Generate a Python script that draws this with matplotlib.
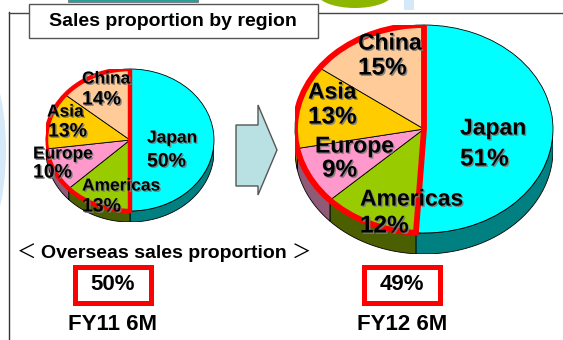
import matplotlib
matplotlib.use("Agg")
import matplotlib.pyplot as plt
import numpy as np
from matplotlib.patches import Wedge, Rectangle, Polygon, Ellipse
import matplotlib.patheffects as pe

# ---------------- data ----------------
regions = ["Japan", "Americas", "Europe", "Asia", "China"]
fy11_share = [50, 13, 10, 13, 14]
fy12_share = [51, 12, 9, 13, 15]
overseas_share = ["50%", "49%"]
period_labels = ["FY11 6M", "FY12 6M"]
title_text = "Sales proportion by region"
overseas_title = "Overseas sales proportion"

top_colors = ["#00FFFF", "#99CC00", "#FF99CC", "#FFCC00", "#FFCC99"]
side_colors = ["#008080", "#4C5F00", "#8E5A75", "#997A00", "#99795C"]

W, H = 563, 340
FONT = "Liberation Sans"

fig = plt.figure(figsize=(W / 100, H / 100), dpi=100)
main = fig.add_axes([0, 0, 1, 1])
main.set_xlim(0, W)
main.set_ylim(H, 0)
main.axis("off")
main.set_zorder(5)

# background decorations
main.add_patch(Ellipse((-24, 150), 60, 190, facecolor="#d6e9f9", edgecolor="none", zorder=0))
main.add_patch(Ellipse((355, -8), 78, 32, facecolor="#8DB600", edgecolor="none", zorder=0))
main.add_patch(Rectangle((404, -2), 10, 12, facecolor="#d3e9f8", edgecolor="none", zorder=0))
main.add_patch(Rectangle((68, -2), 130, 3.5, facecolor="#2a9d9d", edgecolor="#777777", lw=0.6, zorder=0))
main.plot([8.5, 8.5], [12, H], color="#333333", lw=1.0, zorder=1)
main.plot([8.5, W], [12.5, 12.5], color="#444444", lw=1.0, zorder=1)

# title box
main.add_patch(Rectangle((29, 3.5), 289, 34.5, facecolor="white", edgecolor="#555555", lw=1.0, zorder=2))
main.text(173, 21, title_text, fontsize=14, fontweight="bold", family=FONT,
          ha="center", va="center", zorder=3)

shadow = [pe.withSimplePatchShadow(offset=(1, -1), shadow_rgbFace="#7a7a7a", alpha=0.9)]


def draw_pie(values, cx, cy, rx, ry, depth, red_lw):
    ax = fig.add_axes([(cx - rx) / W, (H - (cy + ry + depth)) / H,
                       2 * rx / W, (2 * ry + depth) / H])
    ax.set_zorder(1)
    d = depth / ry
    wedges, _ = ax.pie(values, colors=top_colors, startangle=90, counterclock=False,
                       radius=1, center=(0, 0),
                       wedgeprops=dict(edgecolor="black", linewidth=0.6, zorder=3))
    # side walls
    for w, sc in zip(wedges, side_colors):
        t1, t2 = w.theta1 % 360, w.theta2 % 360
        if t2 <= t1:
            t2 += 360
        for off in (0, 360, -360):
            a = max(t1 + off, 180)
            b = min(t2 + off, 360)
            if b > a:
                t = np.radians(np.linspace(a, b, 60))
                xs = np.cos(t)
                ys = np.sin(t)
                pts = np.concatenate([np.column_stack([xs, ys]),
                                      np.column_stack([xs[::-1], ys[::-1] - d])])
                ax.add_patch(Polygon(pts, closed=True, facecolor=sc, edgecolor="black",
                                     lw=0.6, zorder=1))
    # red outline of overseas part
    th1 = 90
    th2 = wedges[0].theta1 + 360
    ax.add_patch(Wedge((0, 0), 1, th1, th2, fill=False, edgecolor="#FF0000",
                       lw=red_lw, joinstyle="miter", zorder=5))
    ax.set_aspect("auto")
    ax.set_xlim(-1, 1)
    ax.set_ylim(-1 - d, 1)
    ax.axis("off")
    return ax


draw_pie(fy11_share, 130, 140, 84, 71, 11, 3.2)
draw_pie(fy12_share, 424, 129, 129, 104, 21, 4.2)

# pie labels (left x, name y, pct y) in pixels
small_pos = {"Japan": (147, 138, 162), "Americas": (82, 186, 207), "Europe": (33, 154, 173),
             "Asia": (47, 112, 132), "China": (82, 79, 100)}
big_pos = {"Japan": (460, 128, 159), "Americas": (360, 199, 226), "Europe": (315, 146, 170),
           "Asia": (308, 92, 117), "China": (358, 43, 68)}


def labels(values, pos, fs_name, fs_pct, pct_shift):
    for name, v in zip(regions, values):
        x, yn, yp = pos[name]
        main.text(x, yn, name, fontsize=fs_name, fontweight="bold", family=FONT,
                  ha="left", va="center", zorder=10, path_effects=shadow)
        main.text(x + pct_shift.get(name, 0), yp, f"{v}%", fontsize=fs_pct, fontweight="bold",
                  family=FONT, ha="left", va="center", zorder=10, path_effects=shadow)


labels(fy11_share, small_pos, 12.5, 14, {"Asia": 1})
labels(fy12_share, big_pos, 16.5, 17.5, {"Europe": 7})

# arrow
arrow = [(236, 125), (258, 125), (258, 105), (277, 150), (258, 195), (258, 186), (236, 186)]
main.add_patch(Polygon(arrow, closed=True, facecolor="#B9E0E2", edgecolor="#555555", lw=1.0, zorder=4))

# overseas proportion
main.text(27, 253, "＜", fontsize=14, family=["Noto Sans CJK JP", "DejaVu Sans"],
          ha="center", va="center", zorder=5)
main.text(164, 253, overseas_title, fontsize=14, fontweight="bold", family=FONT,
          ha="center", va="center", zorder=5)
main.text(302, 253, "＞", fontsize=14, family=["Noto Sans CJK JP", "DejaVu Sans"],
          ha="center", va="center", zorder=5)

for cxb, txt, lab in zip([113, 402], overseas_share, period_labels):
    main.add_patch(Rectangle((cxb - 38, 267), 76, 36, facecolor="white", edgecolor="#FF0000",
                             lw=3.6, joinstyle="miter", zorder=5))
    main.text(cxb, 285, txt, fontsize=16, fontweight="bold", family=FONT,
              ha="center", va="center", zorder=6)
    main.text(cxb, 325, lab, fontsize=16, fontweight="bold", family=FONT,
              ha="center", va="center", zorder=6)

fig.savefig("out.png", dpi=100)
